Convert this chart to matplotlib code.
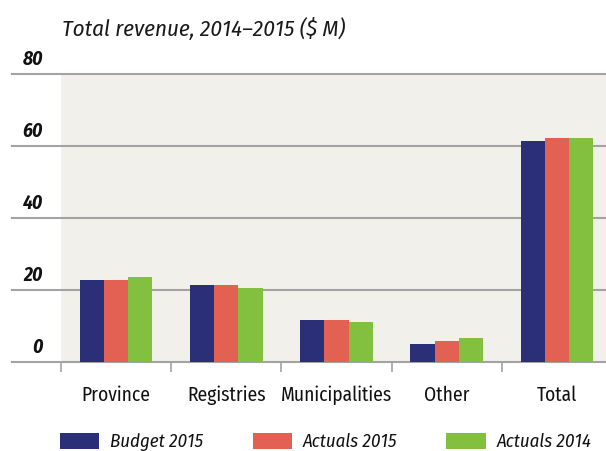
import numpy as np
import matplotlib
matplotlib.use('Agg')
import matplotlib.pyplot as plt

# ---- data ----
categories = ['Province', 'Registries', 'Municipalities', 'Other', 'Total']
budget_2015 = [22.9, 21.4, 11.8, 5.1, 61.5]
actuals_2015 = [22.9, 21.4, 11.8, 5.8, 62.2]
actuals_2014 = [23.6, 20.6, 11.0, 6.6, 62.2]
series_names = ['Budget 2015', 'Actuals 2015', 'Actuals 2014']
y_ticks = [0, 20, 40, 60, 80]

plt.rcParams['font.family'] = ['Fira Sans Condensed', 'DejaVu Sans']

colors = ['#2a2f77', '#e26152', '#83c03f']
bg = '#f1f0eb'
grid_c = '#a3a3a3'

W, H = 606, 451
fig = plt.figure(figsize=(W / 100, H / 100), dpi=100)
ax = fig.add_axes([61 / W, (H - 362) / H, 551 / W, 288 / H])
ax.set_facecolor(bg)

x = np.arange(len(categories))
bw = 0.22
for i, (vals, c) in enumerate(zip([budget_2015, actuals_2015, actuals_2014], colors)):
    ax.bar(x + (i - 1) * bw, vals, width=bw, color=c, label=series_names[i], zorder=3)

ax.set_xlim(-0.5, len(categories) - 0.5)
ax.set_ylim(0, 80)
for s in ax.spines.values():
    s.set_visible(False)
ax.set_yticks([])

# gridlines run out to the left of the shaded area
left_frac = (12 - 61) / 551
for t in y_ticks:
    ax.axhline(t, xmin=left_frac, xmax=1, color=grid_c, lw=1.5, clip_on=False, zorder=2)
    ax.annotate(str(t), xy=((43 - 61) / 551, t), xycoords=ax.get_yaxis_transform(),
                xytext=(0, 3.5), textcoords='offset points', ha='right', va='bottom',
                fontsize=14, fontweight='bold', fontstyle='italic', color='#111111')

# ticks sit on the boundaries between groups
ax.set_xticks(np.arange(len(categories)) - 0.5)
ax.set_xticklabels([])
ax.tick_params(axis='x', length=7, width=1.2, color=grid_c, direction='out')
for xi, lab in zip(x, categories):
    ax.text(xi, -0.115, lab, transform=ax.get_xaxis_transform(), ha='center', va='center',
            fontsize=14, color='#111111')

fig.text(62 / W, 1 - 29 / H, 'Total revenue, 2014\u20132015 ($ M)', ha='left', va='center',
         fontsize=16.5, fontstyle='italic', color='#1a1a1a')

ax.legend(loc='center left', bbox_to_anchor=(60 / W, 1 - 442 / H), bbox_transform=fig.transFigure,
          ncol=3, frameon=False, prop={'style': 'italic', 'size': 13.5},
          labelcolor='#111111', handlelength=2.1, handleheight=1.0, handletextpad=0.55,
          columnspacing=2.65, borderpad=0, borderaxespad=0)

fig.savefig('out.png', dpi=100)
